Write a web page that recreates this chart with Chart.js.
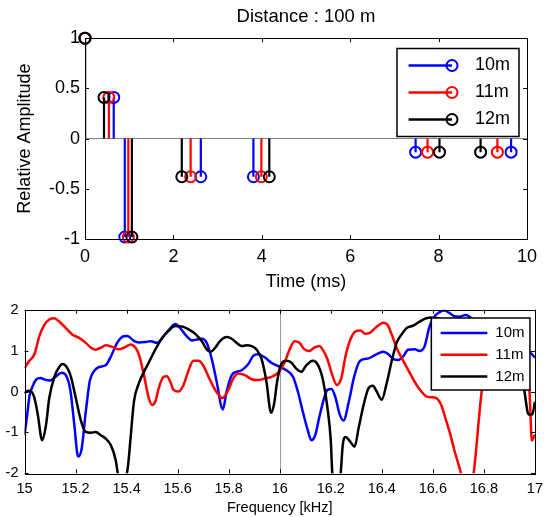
<!DOCTYPE html>
<html>
<head>
<meta charset="utf-8">
<script src="https://cdn.jsdelivr.net/npm/chart.js@4.4.1/dist/chart.umd.min.js"></script>
<style>
  html, body { margin: 0; padding: 0; background: #fff; }
  #wrap { position: relative; width: 550px; height: 517px; }
  canvas { position: absolute; left: 0; }
</style>
</head>
<body>
<div id="wrap">
  <canvas id="impulse" width="550" height="295" style="top:0"></canvas>
  <canvas id="spectrum" width="550" height="222" style="top:295px"></canvas>
</div>
<script>
const FONT = "'Liberation Sans', Arial, sans-serif";

const seriesNames = ['10m', '11m', '12m'];
const seriesColors = ['#0000ff', '#ff0000', '#000000'];

// top: arrival times (ms) and relative amplitudes of the echoes
const delay10 = [0, 0.65, 0.90, 2.62, 3.81, 7.48, 9.64];
const delay11 = [0, 0.54, 0.98, 2.39, 3.99, 7.75, 9.33];
const delay12 = [0, 0.43, 1.06, 2.19, 4.17, 8.02, 8.95];
const echoAmp = [1, 0.41, -0.98, -0.38, -0.38, -0.135, -0.135];

// bottom: frequency response (kHz)
const freq10 = [15.000,15.010,15.020,15.034,15.047,15.062,15.080,15.100,15.120,15.145,15.162,15.180,15.195,15.210,15.224,15.240,15.256,15.273,15.292,15.318,15.338,15.364,15.388,15.403,15.428,15.448,15.474,15.494,15.519,15.545,15.565,15.591,15.610,15.636,15.656,15.675,15.695,15.714,15.734,15.753,15.777,15.792,15.812,15.831,15.851,15.877,15.896,15.916,15.942,15.968,15.994,16.026,16.052,16.071,16.090,16.110,16.124,16.139,16.155,16.174,16.187,16.203,16.219,16.235,16.250,16.271,16.290,16.310,16.329,16.348,16.368,16.387,16.406,16.426,16.445,16.465,16.484,16.503,16.529,16.548,16.568,16.587,16.606,16.626,16.645,16.665,16.684,16.703,16.729,16.748,16.780,16.820,16.870,16.920,16.955,16.975,17.000];
const resp10 = [-1.07,-0.60,-0.10,0.16,0.30,0.33,0.29,0.27,0.35,0.46,0.40,0.02,-0.80,-1.59,-1.40,-0.50,0.26,0.50,0.60,0.64,0.85,1.20,1.35,1.36,1.24,1.20,1.21,1.23,1.19,1.35,1.50,1.65,1.55,1.35,1.25,1.27,1.29,1.19,0.79,0.24,-0.44,0.00,0.40,0.48,0.52,0.67,0.87,0.91,0.83,0.70,0.62,0.52,0.36,0.00,-0.48,-0.95,-1.19,-1.07,-0.63,-0.16,0.04,0.06,-0.16,-0.56,-0.71,-0.24,0.32,0.71,0.79,0.81,0.87,0.93,0.97,0.91,0.79,0.77,0.86,1.02,1.03,0.99,1.11,1.59,1.83,1.94,1.98,1.92,1.84,1.83,1.87,1.81,1.60,1.30,1.10,1.00,0.97,0.97,0.83];

const freq11 = [15.000,15.019,15.039,15.058,15.078,15.097,15.117,15.136,15.162,15.188,15.214,15.240,15.260,15.279,15.299,15.318,15.344,15.370,15.390,15.416,15.435,15.448,15.468,15.487,15.500,15.513,15.526,15.545,15.558,15.571,15.584,15.604,15.623,15.643,15.662,15.682,15.701,15.721,15.740,15.760,15.775,15.799,15.818,15.838,15.864,15.890,15.916,15.942,15.968,15.994,16.019,16.039,16.058,16.077,16.097,16.116,16.135,16.155,16.168,16.187,16.206,16.224,16.241,16.258,16.277,16.297,16.316,16.335,16.355,16.374,16.394,16.406,16.422,16.439,16.458,16.477,16.497,16.516,16.535,16.555,16.574,16.594,16.613,16.632,16.652,16.671,16.684,16.697,16.710,16.735,16.760,16.793,16.830,16.870,16.910,16.950,16.978,16.988,17.000];
const resp11 = [0.57,0.75,0.91,1.35,1.63,1.76,1.79,1.71,1.55,1.39,1.31,1.19,1.07,1.02,1.07,1.13,1.09,1.03,1.07,1.15,1.07,0.91,0.40,-0.16,-0.33,-0.24,0.08,0.36,0.37,0.24,0.04,0.00,0.16,0.52,0.75,0.75,0.63,0.36,0.12,-0.08,-0.16,0.04,0.32,0.44,0.40,0.30,0.28,0.32,0.36,0.46,0.71,1.03,1.23,1.19,1.03,0.99,1.07,1.11,1.03,0.79,0.40,0.16,0.32,0.87,1.27,1.47,1.49,1.41,1.44,1.55,1.65,1.68,1.63,1.39,1.07,0.83,0.60,0.38,0.17,0.00,-0.12,-0.14,-0.16,-0.32,-0.71,-1.11,-1.43,-1.71,-2.00,-2.80,-2.00,0.08,1.00,1.30,1.10,0.60,0.05,-1.20,-1.05];

const freq12 = [15.000,15.013,15.026,15.039,15.052,15.069,15.084,15.097,15.117,15.136,15.149,15.169,15.182,15.201,15.221,15.240,15.260,15.279,15.299,15.318,15.338,15.357,15.368,15.384,15.400,15.406,15.416,15.429,15.448,15.468,15.487,15.513,15.539,15.565,15.591,15.617,15.643,15.669,15.695,15.714,15.730,15.747,15.766,15.792,15.812,15.831,15.851,15.870,15.890,15.909,15.929,15.948,15.966,15.978,15.990,16.006,16.026,16.045,16.065,16.084,16.103,16.129,16.148,16.168,16.187,16.200,16.206,16.220,16.239,16.247,16.258,16.277,16.293,16.310,16.329,16.348,16.365,16.380,16.400,16.419,16.439,16.458,16.477,16.497,16.523,16.548,16.574,16.594,16.640,16.700,16.770,16.840,16.900,16.935,16.957,16.975,16.990,17.000];
const resp12 = [-0.04,0.02,0.00,-0.16,-0.56,-1.19,-0.83,-0.16,0.36,0.60,0.67,0.56,0.36,-0.16,-0.71,-0.99,-1.01,-0.99,-1.07,-1.15,-1.31,-1.67,-2.10,-2.60,-2.05,-1.80,-1.11,-0.24,0.20,0.48,0.71,1.03,1.31,1.49,1.60,1.59,1.52,1.41,1.23,1.03,0.97,1.07,1.23,1.33,1.29,1.19,1.11,1.13,1.11,1.03,0.79,0.24,-0.52,-0.30,0.25,0.67,0.75,0.71,0.56,0.48,0.63,0.75,0.67,0.32,-0.40,-1.19,-2.00,-2.70,-2.00,-1.31,-1.11,-1.23,-1.35,-0.87,-0.32,0.08,0.14,0.00,-0.20,0.20,0.75,1.19,1.39,1.55,1.61,1.71,1.79,1.81,1.75,1.50,1.20,1.00,0.85,0.55,0.07,-0.56,-0.56,-0.25];

const markFreq = 16;

function stemLine(times, amps) {
  const pts = [];
  times.forEach((t, i) => {
    pts.push({x: t, y: 0}, {x: t, y: amps[i]}, {x: t, y: null});
  });
  return pts;
}
function xy(xs, ys) {
  return xs.map((v, i) => ({x: v, y: ys[i]}));
}
// MATLAB-like labels: 1, 0.5, 15.2 (no trailing zeros)
const plainTick = v => String(parseFloat(Number(v).toFixed(2)));

// inner tick marks + box round the plot, optional vertical marker
const framePlugin = {
  id: 'frame',
  beforeDatasetsDraw(chart, args, opts) {
    if (opts.vline == null) return;
    const {ctx, chartArea: a, scales} = chart;
    const px = Math.round(scales.x.getPixelForValue(opts.vline)) + 0.5;
    ctx.save();
    ctx.strokeStyle = '#9a9a9a';
    ctx.lineWidth = 1;
    ctx.beginPath();
    ctx.moveTo(px, a.top);
    ctx.lineTo(px, a.bottom);
    ctx.stroke();
    ctx.restore();
  },
  afterDatasetsDraw(chart) {
    const {ctx, chartArea: a, scales: {x, y}} = chart;
    ctx.save();
    ctx.strokeStyle = '#000';
    ctx.lineWidth = 1;
    ctx.beginPath();
    x.ticks.forEach(t => {
      const px = Math.round(x.getPixelForValue(t.value)) + 0.5;
      ctx.moveTo(px, a.bottom); ctx.lineTo(px, a.bottom - 4);
      ctx.moveTo(px, a.top); ctx.lineTo(px, a.top + 4);
    });
    y.ticks.forEach(t => {
      const py = Math.round(y.getPixelForValue(t.value)) + 0.5;
      ctx.moveTo(a.left, py); ctx.lineTo(a.left + 4, py);
      ctx.moveTo(a.right, py); ctx.lineTo(a.right - 4, py);
    });
    ctx.stroke();
    ctx.strokeRect(Math.round(a.left) + 0.5, Math.round(a.top) + 0.5,
      Math.round(a.right - a.left), Math.round(a.bottom - a.top));
    ctx.restore();
  }
};

// MATLAB style legend box drawn on top of the lines
const boxLegend = {
  id: 'boxLegend',
  afterDraw(chart, args, o) {
    if (!o.entries) return;
    const {ctx, chartArea: a} = chart;
    const left = a.right - o.right - o.width, top = a.top + o.top;
    ctx.save();
    ctx.fillStyle = '#fff';
    ctx.fillRect(left, top, o.width, o.height);
    ctx.strokeStyle = '#000';
    ctx.lineWidth = 1.5;
    ctx.strokeRect(left, top, o.width, o.height);
    ctx.font = o.font;
    ctx.textBaseline = 'middle';
    o.entries.forEach((e, i) => {
      const cy = top + o.first + i * o.gap;
      ctx.strokeStyle = e.color;
      ctx.lineWidth = 2.5;
      ctx.beginPath();
      ctx.moveTo(left + o.lineX0, cy);
      ctx.lineTo(left + o.lineX1, cy);
      ctx.stroke();
      if (o.marker) {
        ctx.lineWidth = 2;
        ctx.beginPath();
        ctx.arc(left + o.lineX1, cy, 5.5, 0, Math.PI * 2);
        ctx.stroke();
      }
      ctx.fillStyle = '#000';
      ctx.fillText(e.text, left + o.textX, cy);
    });
    ctx.restore();
  }
};

const legendEntries = seriesNames.map((s, i) => ({text: s, color: seriesColors[i]}));
const delays = [delay10, delay11, delay12];

const stemSets = [];
delays.forEach((d, i) => {
  stemSets.push({
    data: stemLine(d, echoAmp), showLine: true, borderColor: seriesColors[i],
    borderWidth: 2.2, pointRadius: 0, tension: 0, spanGaps: false, order: 2 - i
  });
  stemSets.push({
    data: xy(d, echoAmp), showLine: false, borderColor: seriesColors[i],
    backgroundColor: 'rgba(0,0,0,0)', pointRadius: 5.5, pointBorderWidth: 2,
    pointBackgroundColor: 'rgba(0,0,0,0)', pointBorderColor: seriesColors[i],
    clip: false, order: 2 - i
  });
});

new Chart(document.getElementById('impulse'), {
  type: 'scatter',
  data: { datasets: stemSets },
  options: {
    responsive: false,
    animation: false,
    events: [],
    layout: { padding: { left: 0, right: 23, top: 0, bottom: 0 } },
    plugins: {
      legend: { display: false },
      tooltip: { enabled: false },
      title: {
        display: true, text: 'Distance : 100 m', fullSize: false, color: '#000',
        font: { family: FONT, size: 18.5, weight: 'normal' },
        padding: { top: 6, bottom: 10 }
      },
      frame: {},
      boxLegend: {
        entries: legendEntries, marker: true, font: '18px ' + FONT,
        right: 8, top: 10.3, width: 122, height: 88,
        first: 17, gap: 27, lineX0: 11.6, lineX1: 55, textX: 78
      }
    },
    scales: {
      x: {
        type: 'linear', min: 0, max: 10,
        ticks: { stepSize: 2, color: '#000', padding: 7, callback: plainTick,
          font: { family: FONT, size: 18 } },
        grid: { display: false, drawTicks: false },
        border: { display: false },
        title: { display: true, text: 'Time (ms)', color: '#000', padding: { bottom: 2 },
          font: { family: FONT, size: 18 } },
        afterFit: s => { s.height = 56; }
      },
      y: {
        min: -1, max: 1,
        ticks: { stepSize: 0.5, color: '#000', padding: 5, callback: plainTick,
          font: { family: FONT, size: 18 } },
        grid: {
          drawTicks: false, lineWidth: 1,
          color: c => (c.tick && c.tick.value === 0 ? '#808080' : 'rgba(0,0,0,0)')
        },
        border: { display: false },
        title: { display: true, text: 'Relative Amplitude', color: '#000', padding: { top: 14 },
          font: { family: FONT, size: 18 } },
        afterFit: s => { s.width = 85; }
      }
    }
  },
  plugins: [framePlugin, boxLegend]
});

const freqs = [freq10, freq11, freq12];
const resps = [resp10, resp11, resp12];

new Chart(document.getElementById('spectrum'), {
  type: 'scatter',
  data: {
    datasets: freqs.map((f, i) => ({
      data: xy(f, resps[i]), showLine: true, borderColor: seriesColors[i],
      borderWidth: 2.5, pointRadius: 0, cubicInterpolationMode: 'monotone',
      clip: 0, order: 2 - i
    }))
  },
  options: {
    responsive: false,
    animation: false,
    events: [],
    layout: { padding: { left: 0, right: 10.5, top: 11.7, bottom: 0 } },
    plugins: {
      legend: { display: false },
      tooltip: { enabled: false },
      frame: { vline: markFreq },
      boxLegend: {
        entries: legendEntries, marker: false, font: '15px ' + FONT,
        right: 5, top: 8.3, width: 98.6, height: 72,
        first: 15, gap: 21.7, lineX0: 9.3, lineX1: 56, textX: 64
      }
    },
    scales: {
      x: {
        type: 'linear', min: 15, max: 17,
        ticks: { stepSize: 0.2, color: '#000', padding: 7, callback: plainTick,
          font: { family: FONT, size: 14.5 } },
        grid: { display: false, drawTicks: false },
        border: { display: false },
        title: { display: true, text: 'Frequency [kHz]', color: '#000', padding: { bottom: 0 },
          font: { family: FONT, size: 14.5 } },
        afterFit: s => { s.height = 43.7; }
      },
      y: {
        min: -2, max: 2,
        ticks: { stepSize: 1, color: '#000', padding: 6, callback: plainTick,
          font: { family: FONT, size: 14.5 } },
        grid: { display: false, drawTicks: false },
        border: { display: false },
        afterFit: s => { s.width = 24.5; }
      }
    }
  },
  plugins: [framePlugin, boxLegend]
});
</script>
</body>
</html>
